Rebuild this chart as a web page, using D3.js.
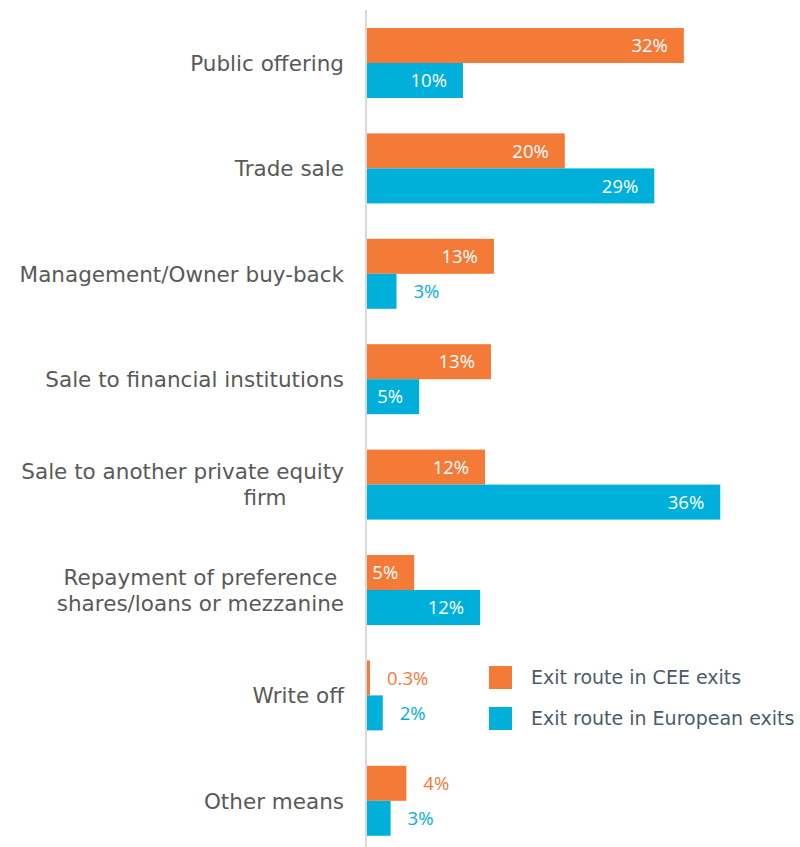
<!DOCTYPE html>
<html>
<head>
<meta charset="utf-8">
<script src="https://cdn.jsdelivr.net/npm/d3@7"></script>
<style>
  body { margin: 0; background: #fff; }
  .catLabel { font-family: "DejaVu Sans", sans-serif; font-size: 21.5px; fill: #595959; }
  .valLabel { font-family: "Open Sans", sans-serif; font-size: 18.5px; }
  .legendText { font-family: "DejaVu Sans", sans-serif; font-size: 19px; fill: #4d5b69; }
</style>
</head>
<body>
<div id="chart"></div>
<script>
var svgWidth = 800;
var svgHeight = 847;

var categories = [
  ["Public offering"],
  ["Trade sale"],
  ["Management/Owner buy-back"],
  ["Sale to financial institutions"],
  ["Sale to another private equity", "firm"],
  ["Repayment of preference ", "shares/loans or mezzanine"],
  ["Write off"],
  ["Other means"]
];
var ceeValues = [32.2, 20.1, 12.9, 12.6, 12.0, 4.8, 0.3, 4.0];
var euValues = [9.75, 29.2, 3.0, 5.3, 35.9, 11.5, 1.6, 2.4];
var ceeLabels = ["32%", "20%", "13%", "13%", "12%", "5%", "0.3%", "4%"];
var euLabels = ["10%", "29%", "3%", "5%", "36%", "12%", "2%", "3%"];
var seriesNames = ["Exit route in CEE exits", "Exit route in European exits"];
var colors = ["#f47a38", "#00b0da"];

var axisX = 366;

var svg = d3.select("#chart")
  .append("svg")
  .attr("width", svgWidth)
  .attr("height", svgHeight);

var yScale = d3.scaleBand()
  .domain(d3.range(categories.length))
  .range([10.3, 853.5])
  .paddingInner(0.336)
  .paddingOuter(0.168);

var xScale = d3.scaleLinear()
  .domain([0, 36])
  .range([axisX + 1, axisX + 1 + 36 * 9.84]);

var barH = yScale.bandwidth() / 2;

var rows = categories.map(function(c, i) {
  return { name: c, values: [ceeValues[i], euValues[i]], labels: [ceeLabels[i], euLabels[i]], i: i };
});

var groups = svg.selectAll(".group")
  .data(rows)
  .enter()
  .append("g")
  .attr("transform", d => `translate(0, ${yScale(d.i)})`);

groups.selectAll("rect")
  .data(d => d.values.map((v, s) => ({ v: v, s: s, label: d.labels[s] })))
  .enter()
  .append("rect")
  .attr("x", xScale(0))
  .attr("y", d => d.s * barH)
  .attr("width", d => xScale(d.v) - xScale(0))
  .attr("height", barH)
  .attr("fill", d => colors[d.s]);

// labels go inside the bar when it is long enough, otherwise just after it
groups.selectAll(".valLabel")
  .data(d => d.values.map((v, s) => ({ v: v, s: s, label: d.labels[s] })))
  .enter()
  .append("text")
  .attr("class", "valLabel")
  .attr("x", d => d.v >= 4.5 ? xScale(d.v) - 16 : xScale(d.v) + 17)
  .attr("y", d => d.s * barH + barH / 2)
  .attr("dy", "0.36em")
  .attr("text-anchor", d => d.v >= 4.5 ? "end" : "start")
  .style("fill", d => d.v >= 4.5 ? "#fff" : colors[d.s])
  .text(d => d.label);

groups.each(function(d) {
  var t = d3.select(this).append("text")
    .attr("class", "catLabel")
    .style("white-space", "pre");
  var n = d.name.length;
  d.name.forEach(function(line, k) {
    var short = line == "firm";
    t.append("tspan")
      .attr("x", short ? 265 : axisX - 22)
      .attr("text-anchor", short ? "middle" : "end")
      .attr("y", barH + (k - (n - 1) / 2) * 26)
      .attr("dy", "0.36em")
      .text(line);
  });
});

// axis line
svg.append("line")
  .attr("x1", axisX)
  .attr("x2", axisX)
  .attr("y1", 10)
  .attr("y2", svgHeight)
  .attr("stroke", "#d9d9d9")
  .attr("stroke-width", 2);

var legend = svg.append("g")
  .attr("transform", "translate(489, 666)");

legend.selectAll("rect")
  .data(seriesNames)
  .enter()
  .append("rect")
  .attr("x", 0)
  .attr("y", (d, i) => i * 41)
  .attr("width", 23)
  .attr("height", 23)
  .attr("fill", (d, i) => colors[i]);

legend.selectAll("text")
  .data(seriesNames)
  .enter()
  .append("text")
  .attr("class", "legendText")
  .attr("x", 42)
  .attr("y", (d, i) => i * 41 + 11.5)
  .attr("dy", "0.36em")
  .text(d => d);
</script>
</body>
</html>
